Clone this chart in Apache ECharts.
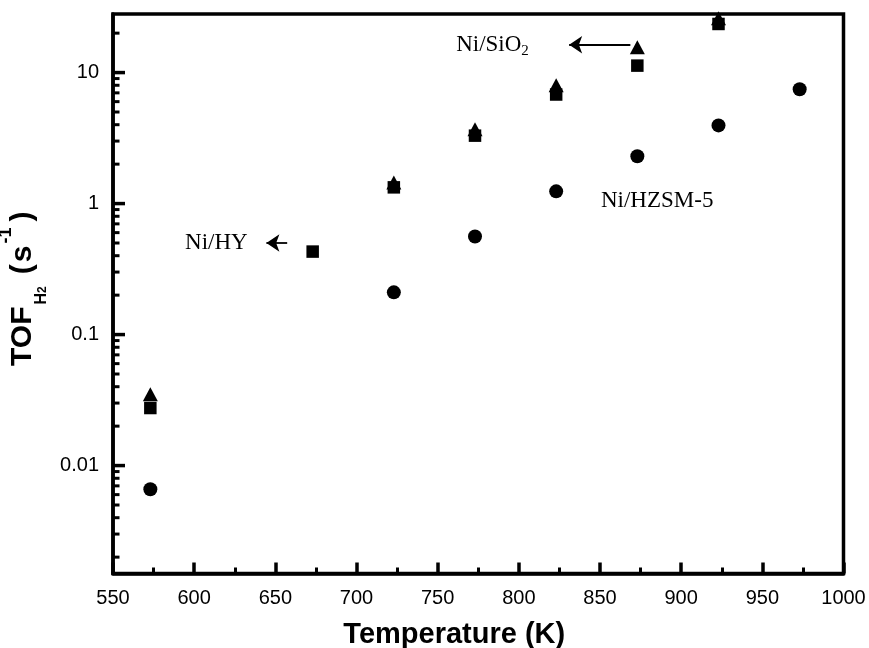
<!DOCTYPE html>
<html><head><meta charset="utf-8">
<script src="https://cdn.jsdelivr.net/npm/echarts@6/dist/echarts.min.js"></script>
<style>html,body{margin:0;padding:0;background:#fff}#c{width:869px;height:648px}</style>
</head><body><div id="c"></div>
<script>
// Data (temperature in K, TOF in s^-1)
const tempSiO2 = [573, 723, 773, 823, 873, 923];
const tofSiO2  = [0.035, 1.45, 3.7, 8.0, 15.6, 26];
const tempHY   = [573, 673, 723, 773, 823, 873, 923];
const tofHY    = [0.0275, 0.43, 1.33, 3.3, 6.8, 11.3, 23.5];
const tempHZSM = [573, 723, 773, 823, 873, 923, 973];
const tofHZSM  = [0.0066, 0.21, 0.56, 1.24, 2.3, 3.95, 7.45];

// Axis ticks
const xMin = 550, xMax = 1000, xStep = 50;
const yMin = 0.0015, yMax = 28;
const yMajorVals = [0.01, 0.1, 1, 10];
const yMajorLabels = ['0.01', '0.1', '1', '10'];
const yMinorMultipliers = [2, 3, 4, 5, 6, 7, 8, 9];
const yDecades = [0.001, 0.01, 0.1, 1, 10];

const yTickData = [];
yMajorVals.forEach(v => yTickData.push([xMin, v, 1]));
yDecades.forEach(d => yMinorMultipliers.forEach(m => {
  const v = d * m;
  if (v >= yMin && v <= yMax) yTickData.push([xMin, v, 0]);
}));

const font = 'Liberation Sans, Arial, Helvetica, sans-serif';
const serif = 'Liberation Serif, Times New Roman, serif';

const chart = echarts.init(document.getElementById('c'), null, {renderer: 'canvas'});
chart.setOption({
  animation: false,
  backgroundColor: '#fff',
  grid: {left: 113, right: 25.5, top: 14, bottom: 74.5, show: true, borderColor: '#000', borderWidth: 3.5, backgroundColor: 'transparent', containLabel: false, outerBoundsMode: 'none'},
  xAxis: {
    type: 'value', min: xMin, max: xMax, interval: xStep,
    axisLine: {show: true, lineStyle: {color: '#000', width: 3.5}},
    axisTick: {show: true, inside: true, length: 11, lineStyle: {color: '#000', width: 3.5}},
    minorTick: {show: true, splitNumber: 2, length: 6, lineStyle: {color: '#000', width: 3}},
    splitLine: {show: false},
    axisLabel: {color: '#000', fontFamily: font, fontSize: 20, margin: 15, formatter: v => String(v)},
    name: 'Temperature (K)', nameLocation: 'middle', nameGap: 47,
    nameTextStyle: {color: '#000', fontFamily: font, fontSize: 29, fontWeight: 'bold', padding: [0, 48, 0, 0]}
  },
  yAxis: {
    type: 'log', logBase: 10, min: yMin, max: yMax,
    axisLine: {show: true, lineStyle: {color: '#000', width: 3.5}},
    axisTick: {show: false},
    splitLine: {show: false},
    axisLabel: {
      color: '#000', fontFamily: font, fontSize: 20, margin: 14,
      formatter: function (v) {
        for (let i = 0; i < yMajorVals.length; i++) {
          if (Math.abs(v - yMajorVals[i]) / yMajorVals[i] < 1e-6) return yMajorLabels[i];
        }
        return '';
      }
    },
    name: '{b|TOF}{h|H}{h2|2}{p|(}{s|s}{sup|-1}{b|)}',
    nameLocation: 'middle', nameRotate: 90, nameGap: 55,
    nameTextStyle: {
      color: '#000', fontFamily: font, fontWeight: 'bold', padding: [0, 0, 0, 10],
      rich: {
        b: {fontFamily: font, fontSize: 30, fontWeight: 'bold', color: '#000', lineHeight: 52},
        p: {fontFamily: font, fontSize: 30, fontWeight: 'bold', color: '#000', lineHeight: 52, padding: [0, 2, 0, 0]},
        s: {fontFamily: font, fontSize: 30, fontWeight: 'bold', color: '#000', lineHeight: 52},
        h: {fontFamily: font, fontSize: 16, fontWeight: 'bold', color: '#000', verticalAlign: 'bottom', lineHeight: 14, padding: [0, 0, 0, 2]},
        h2: {fontFamily: font, fontSize: 12, fontWeight: 'bold', color: '#000', verticalAlign: 'bottom', lineHeight: 8, padding: [0, 12, 0, 0]},
        sup: {fontFamily: font, fontSize: 18, fontWeight: 'bold', color: '#000', verticalAlign: 'top', lineHeight: 32, padding: [0, 6, 0, 2]}
      }
    }
  },
  series: [
    {
      name: 'Ni/SiO2', type: 'scatter', symbol: 'triangle', symbolSize: [15, 14], clip: false,
      itemStyle: {color: '#000', opacity: 1},
      data: tempSiO2.map((t, i) => [t, tofSiO2[i]]),
      z: 3,
      markLine: {
        silent: true, symbol: ['none', 'arrow'], symbolSize: 13,
        lineStyle: {color: '#000', width: 1.8, type: 'solid'}, label: {show: false},
        emphasis: {disabled: true},
        data: [
          [{coord: [868.7, 16.3]}, {coord: [831, 16.3]}],
          [{coord: [657.3, 0.5]}, {coord: [644.5, 0.5]}]
        ]
      },
      markPoint: {
        silent: true, symbol: 'circle', symbolSize: 0,
        label: {show: true, position: 'right', distance: 0, color: '#000', fontFamily: serif, fontSize: 23},
        data: [
          {coord: [761.4, 16.3], label: {formatter: '{a|Ni/SiO}{s|2}', rich: {a: {fontFamily: serif, fontSize: 23, color: '#000', lineHeight: 28}, s: {fontFamily: serif, fontSize: 15, color: '#000', verticalAlign: 'bottom', lineHeight: 16}}}},
          {coord: [594.4, 0.5], label: {formatter: 'Ni/HY'}},
          {coord: [850.6, 1.04], label: {formatter: 'Ni/HZSM-5'}}
        ]
      }
    },
    {
      name: 'Ni/HY', type: 'scatter', symbol: 'rect', symbolSize: 12.5, clip: false,
      itemStyle: {color: '#000', opacity: 1}, z: 4,
      data: tempHY.map((t, i) => [t, tofHY[i]])
    },
    {
      name: 'Ni/HZSM-5', type: 'scatter', symbol: 'circle', symbolSize: 14, clip: false,
      itemStyle: {color: '#000', opacity: 1}, z: 4,
      data: tempHZSM.map((t, i) => [t, tofHZSM[i]])
    },
    {
      name: 'yTicks', type: 'custom', silent: true, clip: false, z: 5,
      data: yTickData,
      renderItem: function (params, api) {
        const p = api.coord([api.value(0), api.value(1)]);
        const major = api.value(2) === 1;
        return {
          type: 'line',
          shape: {x1: p[0], y1: p[1], x2: p[0] + (major ? 12 : 6.5), y2: p[1]},
          style: {stroke: '#000', lineWidth: major ? 3.5 : 3}
        };
      }
    }
  ]
});
</script>
</body></html>
